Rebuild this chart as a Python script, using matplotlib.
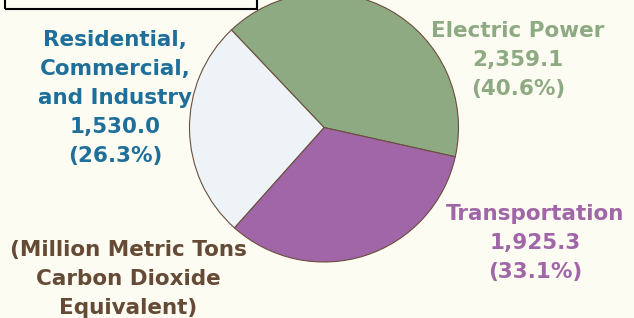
import matplotlib.pyplot as plt
from matplotlib.patches import Rectangle

sectors = ["Electric Power", "Transportation", "Residential,\nCommercial,\nand Industry"]
emissions = [2359.1, 1925.3, 1530.0]
shares = [40.6, 33.1, 26.3]
colors = ["#8eaa83", "#a166a8", "#eef3f7"]
text_colors = ["#8eaa83", "#a166a8", "#1f6f9b"]
label_pos = [(518, 258), (535, 75), (115, 220)]
units = "(Million Metric Tons\nCarbon Dioxide\nEquivalent)"

bg = "#fdfcf2"
fig = plt.figure(figsize=(6.34, 3.18), dpi=100, facecolor=bg)
ax = fig.add_axes([0, 0, 1, 1])
ax.set_facecolor(bg)

ax.pie(emissions, colors=colors, startangle=133.5, counterclock=False,
       center=(324, 190.5), radius=134.5, frame=True,
       wedgeprops=dict(edgecolor="#6b4e3d", linewidth=0.8))
ax.set_xlim(0, 634)
ax.set_ylim(0, 318)
ax.set_aspect("equal")
ax.axis("off")

font = dict(fontsize=15.5, fontweight="bold", family="DejaVu Sans", linespacing=1.55)
for name, val, pct, tc, (x, y) in zip(sectors, emissions, shares, text_colors, label_pos):
    ax.text(x, y, f"{name}\n{val:,.1f}\n({pct}%)", color=tc, ha="center", va="center", **font)

ax.text(128, 39, units, color="#654a35", ha="center", va="center", **font)

# box cut off at the top
ax.add_patch(Rectangle((5, 309.5), 252, 20, facecolor="none", edgecolor="black", linewidth=1.5))

fig.savefig("out.png", dpi=100, facecolor=bg)
